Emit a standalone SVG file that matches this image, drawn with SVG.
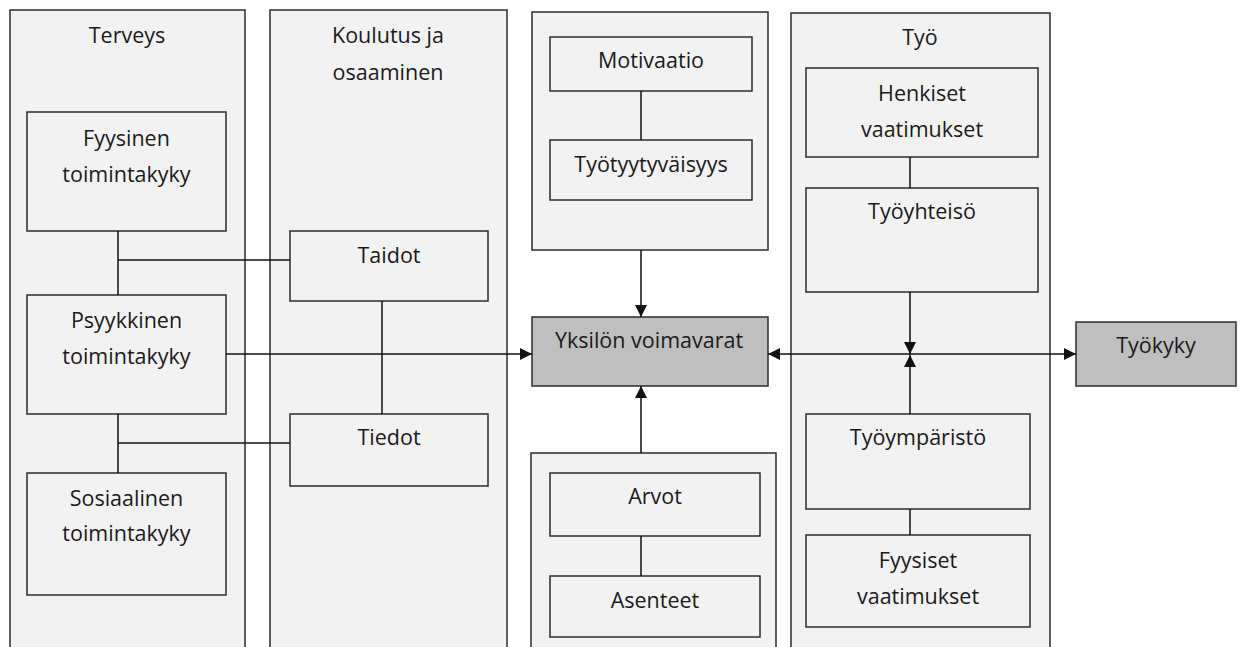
<svg xmlns="http://www.w3.org/2000/svg" width="1241" height="647" viewBox="0 0 1241 647">
  <style>
    .col { fill: #f2f2f2; stroke: #2b2b2b; stroke-width: 1.5; }
    .box { fill: #f2f2f2; stroke: #2b2b2b; stroke-width: 1.5; }
    .key { fill: #bfbfbf; stroke: #2b2b2b; stroke-width: 1.5; }
    .lbl { font-family: "Open Sans", "Noto Sans", "DejaVu Sans", sans-serif; font-size: 21.5px; fill: #1a1a1a; text-anchor: middle; }
    .wire { fill: none; stroke: #111; stroke-width: 1.5; }
  </style>
  <defs>
    <marker id="arrow" markerUnits="userSpaceOnUse" markerWidth="12" markerHeight="12" refX="12" refY="6" orient="auto">
      <path d="M0,0 L12,6 L0,12 z" fill="#111"/>
    </marker>
  </defs>
  <rect width="1241" height="647" fill="#ffffff"/>

  <!-- Terveys column -->
  <g id="terveys">
    <rect class="col" x="10" y="10" width="235" height="660"/>
    <text class="lbl" x="127" y="43">Terveys</text>
  </g>
  <g id="fyysinen">
    <rect class="box" x="27" y="112" width="199" height="119"/>
    <text class="lbl" x="126.5" y="146">Fyysinen</text>
    <text class="lbl" x="126.5" y="182">toimintakyky</text>
  </g>
  <g id="psyykkinen">
    <rect class="box" x="27" y="295" width="199" height="119"/>
    <text class="lbl" x="126.5" y="328">Psyykkinen</text>
    <text class="lbl" x="126.5" y="364">toimintakyky</text>
  </g>
  <g id="sosiaalinen">
    <rect class="box" x="27" y="473" width="199" height="122"/>
    <text class="lbl" x="126.5" y="506">Sosiaalinen</text>
    <text class="lbl" x="126.5" y="541">toimintakyky</text>
  </g>

  <!-- Koulutus ja osaaminen column -->
  <g id="koulutus">
    <rect class="col" x="270" y="10" width="237" height="660"/>
    <text class="lbl" x="388" y="43">Koulutus ja</text>
    <text class="lbl" x="388" y="80">osaaminen</text>
  </g>
  <g id="taidot">
    <rect class="box" x="290" y="231" width="198" height="70"/>
    <text class="lbl" x="389" y="263">Taidot</text>
  </g>
  <g id="tiedot">
    <rect class="box" x="290" y="414" width="198" height="72"/>
    <text class="lbl" x="389" y="445">Tiedot</text>
  </g>

  <!-- Motivation group -->
  <g id="motivaatio-ryhma">
    <rect class="col" x="532" y="12" width="236" height="238"/>
  </g>
  <g id="motivaatio">
    <rect class="box" x="550" y="37" width="202" height="54"/>
    <text class="lbl" x="651" y="68">Motivaatio</text>
  </g>
  <g id="tyotyytyvaisyys">
    <rect class="box" x="550" y="140" width="202" height="60"/>
    <text class="lbl" x="651" y="172">Työtyytyväisyys</text>
  </g>

  <!-- Central resources -->
  <g id="voimavarat">
    <rect class="key" x="532" y="317" width="236" height="69"/>
    <text class="lbl" x="649" y="348">Yksilön voimavarat</text>
  </g>

  <!-- Values group -->
  <g id="arvot-ryhma">
    <rect class="col" x="531" y="453" width="245" height="220"/>
  </g>
  <g id="arvot">
    <rect class="box" x="550" y="473" width="210" height="63"/>
    <text class="lbl" x="655" y="504">Arvot</text>
  </g>
  <g id="asenteet">
    <rect class="box" x="550" y="576" width="210" height="61"/>
    <text class="lbl" x="655" y="608">Asenteet</text>
  </g>

  <!-- Työ column -->
  <g id="tyo">
    <rect class="col" x="791" y="13" width="259" height="660"/>
    <text class="lbl" x="920" y="45">Työ</text>
  </g>
  <g id="henkiset">
    <rect class="box" x="806" y="68" width="232" height="89"/>
    <text class="lbl" x="922" y="101">Henkiset</text>
    <text class="lbl" x="922" y="137">vaatimukset</text>
  </g>
  <g id="tyoyhteiso">
    <rect class="box" x="806" y="188" width="232" height="104"/>
    <text class="lbl" x="922" y="219">Työyhteisö</text>
  </g>
  <g id="tyoymparisto">
    <rect class="box" x="806" y="414" width="224" height="95"/>
    <text class="lbl" x="918" y="445">Työympäristö</text>
  </g>
  <g id="fyysiset">
    <rect class="box" x="806" y="535" width="224" height="92"/>
    <text class="lbl" x="918" y="568">Fyysiset</text>
    <text class="lbl" x="918" y="604">vaatimukset</text>
  </g>

  <!-- Outcome -->
  <g id="tyokyky">
    <rect class="key" x="1076" y="322" width="160" height="64"/>
    <text class="lbl" x="1156" y="353">Työkyky</text>
  </g>

  <!-- Connectors -->
  <g id="connectors">
    <line class="wire" x1="118" y1="231" x2="118" y2="295"/>
    <line class="wire" x1="118" y1="260" x2="290" y2="260"/>
    <line class="wire" x1="118" y1="414" x2="118" y2="473"/>
    <line class="wire" x1="118" y1="443" x2="290" y2="443"/>
    <line class="wire" x1="382" y1="301" x2="382" y2="414"/>
    <line class="wire" x1="226" y1="354" x2="532" y2="354" marker-end="url(#arrow)"/>
    <line class="wire" x1="641" y1="91" x2="641" y2="140"/>
    <line class="wire" x1="641" y1="250" x2="641" y2="317" marker-end="url(#arrow)"/>
    <line class="wire" x1="641" y1="453" x2="641" y2="386" marker-end="url(#arrow)"/>
    <line class="wire" x1="641" y1="536" x2="641" y2="576"/>
    <line class="wire" x1="910" y1="354" x2="768" y2="354" marker-end="url(#arrow)"/>
    <line class="wire" x1="910" y1="354" x2="1076" y2="354" marker-end="url(#arrow)"/>
    <line class="wire" x1="910" y1="157" x2="910" y2="188"/>
    <line class="wire" x1="910" y1="292" x2="910" y2="354" marker-end="url(#arrow)"/>
    <line class="wire" x1="910" y1="414" x2="910" y2="355" marker-end="url(#arrow)"/>
    <line class="wire" x1="910" y1="509" x2="910" y2="535"/>
  </g>
</svg>
